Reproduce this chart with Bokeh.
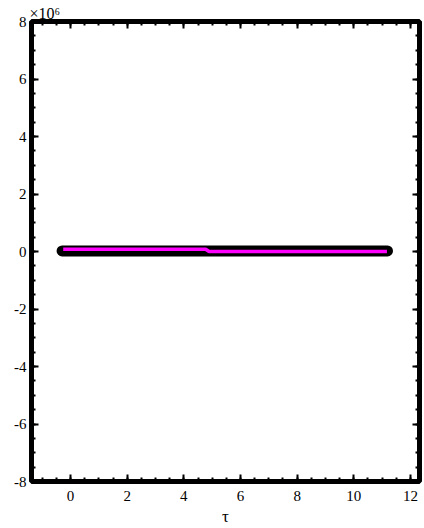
from bokeh.plotting import figure
from bokeh.models import (Range1d, LinearAxis, FixedTicker, CustomJSTickFormatter, Title)
from bokeh.embed import file_html
from bokeh.resources import INLINE

# data (y in raw units; axis shows x10^6)
tau_black = [-0.3, 11.19]
val_black = [0.02e6, 0.02e6]
tau_mag = [-0.26, 4.77, 4.89, 11.17]
val_mag = [0.08e6, 0.08e6, 0.0, 0.0]

x_ticks = [0, 2, 4, 6, 8, 10, 12]
y_ticks = [-8e6, -6e6, -4e6, -2e6, 0, 2e6, 4e6, 6e6, 8e6]

FONT = "Liberation Serif"

W, H = 424, 528
BL, BR, BT, BB = 31, 5, 21, 45

p = figure(width=W, height=H, output_backend="svg", toolbar_location=None,
           x_range=Range1d(-1.38, 12.32), y_range=Range1d(-8e6, 8e6),
           min_border_left=BL, min_border_right=BR, min_border_top=BT, min_border_bottom=BB,
           x_axis_label="τ")
p.grid.visible = False
p.background_fill_color = "white"
p.outline_line_color = "black"
p.outline_line_width = 5

xminor = [x / 2 for x in range(-4, 26)]
yminor = [y * 0.5e6 for y in range(-16, 17)]

def style(ax, ticks, minor, labels=True):
    ax.ticker = FixedTicker(ticks=ticks, minor_ticks=minor)
    ax.axis_line_color = None
    ax.major_tick_in = 7
    ax.major_tick_out = 0
    ax.minor_tick_in = 4
    ax.minor_tick_out = 0
    ax.major_tick_line_width = 2
    ax.minor_tick_line_width = 2
    ax.major_tick_line_color = "black"
    ax.minor_tick_line_color = "black"
    ax.major_label_text_font = FONT
    ax.major_label_text_font_size = "15px"
    ax.major_label_text_color = "black"
    ax.major_label_standoff = 9
    ax.axis_label_text_font = FONT
    ax.axis_label_text_font_style = "normal"
    ax.axis_label_text_font_size = "17px"
    ax.axis_label_text_color = "black"
    ax.axis_label_standoff = 3
    if not labels:
        ax.formatter = CustomJSTickFormatter(code="return '';")
        ax.major_label_standoff = 0

style(p.xaxis[0], x_ticks, xminor)
style(p.yaxis[0], y_ticks, yminor)
p.yaxis[0].formatter = CustomJSTickFormatter(code="return (tick/1e6).toFixed(0);")
p.yaxis[0].major_label_standoff = 5

rax = LinearAxis()
style(rax, y_ticks, yminor, labels=False)
p.add_layout(rax, "right")
tax = LinearAxis()
style(tax, x_ticks, xminor, labels=False)
p.add_layout(tax, "above")

p.line(tau_black, val_black, line_color="black", line_width=11, line_cap="round")
p.line(tau_mag, val_mag, line_color="#ff00ff", line_width=3.5)

p.add_layout(Title(text="×10⁶", align="left", offset=-2, standoff=0,
                   text_font=FONT, text_font_size="16px", text_font_style="normal",
                   text_color="black", text_line_height=1.0), "above")

open("out.html", "w").write(file_html(p, INLINE))
